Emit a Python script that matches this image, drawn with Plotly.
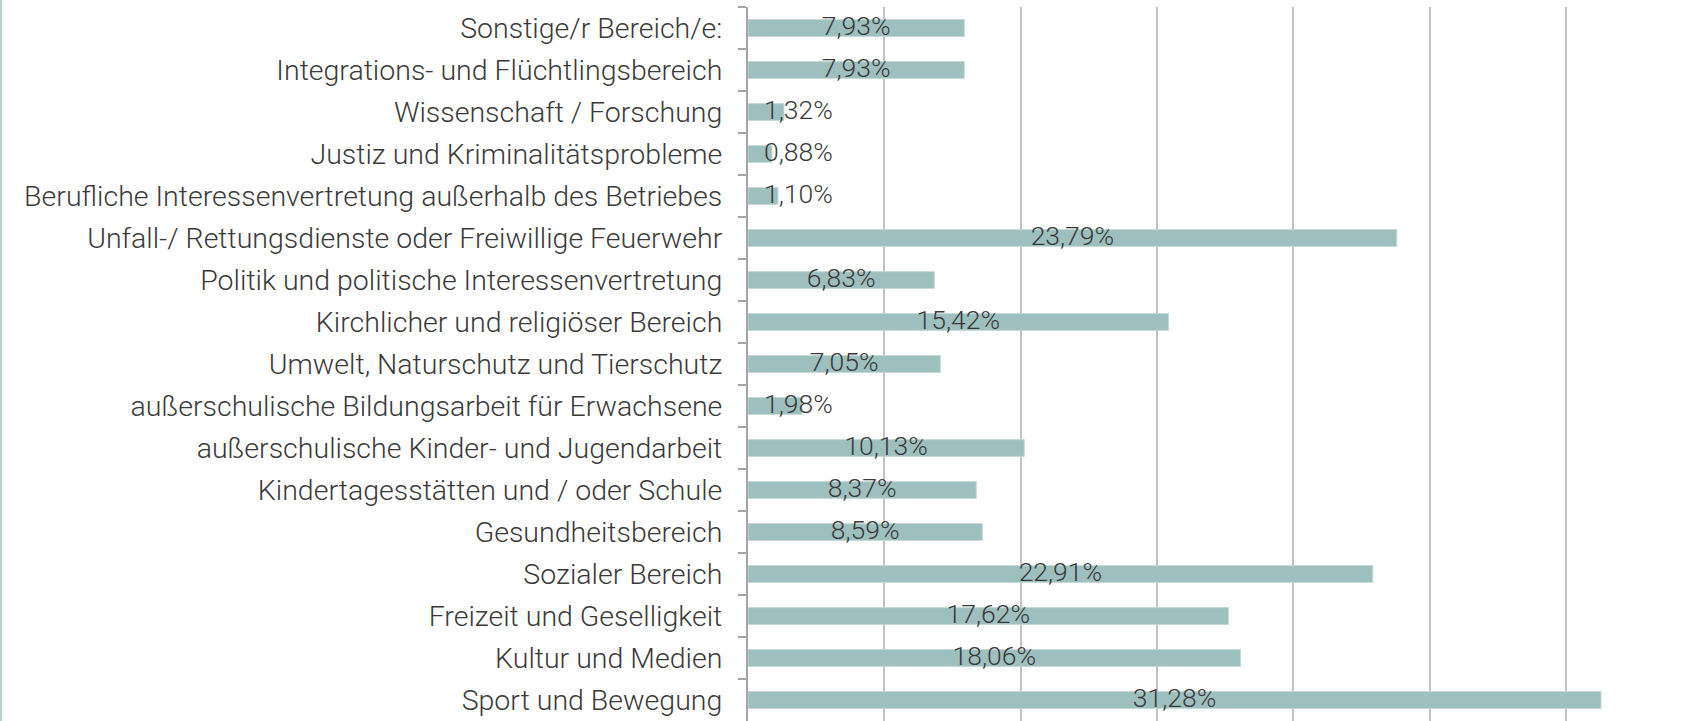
import plotly.graph_objects as go

categories = [
    "Sonstige/r Bereich/e:",
    "Integrations- und Flüchtlingsbereich",
    "Wissenschaft / Forschung",
    "Justiz und Kriminalitätsprobleme",
    "Berufliche Interessenvertretung außerhalb des Betriebes",
    "Unfall-/ Rettungsdienste oder Freiwillige Feuerwehr",
    "Politik und politische Interessenvertretung",
    "Kirchlicher und religiöser Bereich",
    "Umwelt, Naturschutz und Tierschutz",
    "außerschulische Bildungsarbeit für Erwachsene",
    "außerschulische Kinder- und Jugendarbeit",
    "Kindertagesstätten und / oder Schule",
    "Gesundheitsbereich",
    "Sozialer Bereich",
    "Freizeit und Geselligkeit",
    "Kultur und Medien",
    "Sport und Bewegung",
]
values = [7.93, 7.93, 1.32, 0.88, 1.10, 23.79, 6.83, 15.42, 7.05, 1.98,
          10.13, 8.37, 8.59, 22.91, 17.62, 18.06, 31.28]
value_labels = [f"{v:.2f}".replace(".", ",") + "%" for v in values]
grid_ticks = [0, 5, 10, 15, 20, 25, 30]

FONT = "Roboto"
TEXT = "#3a3a3a"
BAR = "#9dbfbd"

label_x = [max(v / 2, 1.85) for v in values]

fig = go.Figure()
fig.add_trace(go.Bar(
    x=values, y=categories, orientation="h",
    marker=dict(color=BAR, line=dict(color="#c4dad9", width=1)),
    width=0.4, hoverinfo="x+y",
))
fig.add_trace(go.Scatter(
    x=label_x, y=categories, mode="text", text=value_labels,
    textposition="middle center",
    textfont=dict(family=FONT, size=26.5, color=TEXT, weight=300),
    hoverinfo="skip", cliponaxis=False,
))

W, H = 1691, 721
ML = 748
fig.update_layout(
    width=W, height=H,
    margin=dict(l=ML, r=0, t=7, b=0, pad=0),
    paper_bgcolor="white", plot_bgcolor="white",
    showlegend=False,
    font=dict(family=FONT, color=TEXT),
)
fig.update_xaxes(
    range=[0, 34.58], tickvals=grid_ticks, showticklabels=False,
    showgrid=True, gridcolor="#c3c3c3", gridwidth=2,
    zeroline=False, showline=False, fixedrange=True,
)
fig.update_yaxes(
    categoryorder="array", categoryarray=categories,
    range=[len(categories) - 0.5, -0.5], autorange=False,
    showline=True, linecolor="#a6a6a6", linewidth=2,
    ticks="outside", tickson="boundaries", ticklen=8, tickcolor="#a6a6a6", tickwidth=2,
    ticklabelstandoff=18,
    tickfont=dict(family=FONT, size=28.5, color=TEXT, weight=300),
    showgrid=False, fixedrange=True, automargin=False,
)
# thin teal frame line at the far left edge of the picture
plot_w = W - ML
fig.add_shape(type="line", xref="paper", yref="paper",
              x0=-(ML - 1) / plot_w, x1=-(ML - 1) / plot_w, y0=-0.02, y1=1.05,
              line=dict(color="#b7d4d4", width=2))

fig.write_html("out.html",
               config={"displayModeBar": False},
               post_script="document.body.style.margin='0';document.body.style.overflow='hidden';")
